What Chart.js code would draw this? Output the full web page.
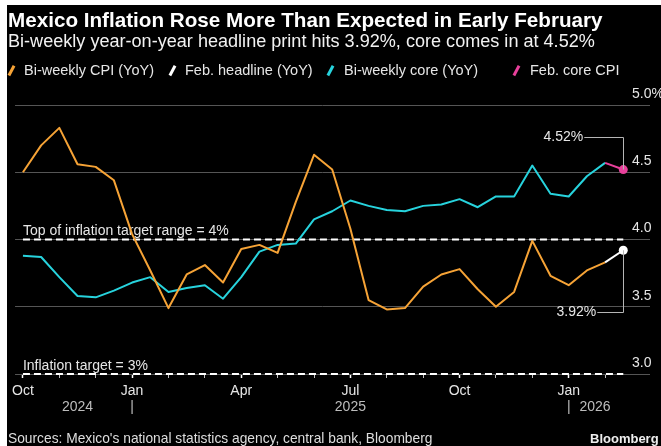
<!DOCTYPE html>
<html>
<head>
<meta charset="utf-8">
<script src="https://cdn.jsdelivr.net/npm/chart.js@4.4.1/dist/chart.umd.min.js"></script>
<style>
html, body { margin: 0; padding: 0; background: #fff; width: 661px; height: 446px; overflow: hidden; }
#wrap { position: absolute; left: 7px; top: 5px; width: 654px; height: 441px; background: #000; overflow: hidden;
  font-family: 'Liberation Sans', Arial, sans-serif; color: #fff; }
#chart { position: absolute; left: 0; top: 0; }
.txt { position: absolute; white-space: nowrap; }
#title { left: 1px; top: 5px; font-size: 19px; line-height: 20px; font-weight: bold; }
#subtitle { left: 1px; top: 26px; font-size: 16px; line-height: 20px; color: #f2f2f2; }
.lg { position: absolute; top: 57px; font-size: 14.5px; line-height: 16px; color: #e6e6e6; white-space: nowrap; }
.sl { position: absolute; top: 60px; width: 2.5px; height: 11px; transform: rotate(28deg); }
#source { left: 1px; top: 426px; font-size: 13px; line-height: 16px; color: #ddd; }
#brand { left: 583px; top: 426px; font-size: 13px; line-height: 16px; font-weight: bold; color: #eee; }
</style>
</head>
<body>
<div id="wrap">
  <canvas id="chart" width="654" height="441"></canvas>
  <div id="title" class="txt">Mexico Inflation Rose More Than Expected in Early February</div>
  <div id="subtitle" class="txt">Bi-weekly year-on-year headline print hits 3.92%, core comes in at 4.52%</div>
  <i class="sl" style="left:3px;background:#f6a336"></i><span class="lg" style="left:17px">Bi-weekly CPI (YoY)</span>
  <i class="sl" style="left:164px;background:#fff"></i><span class="lg" style="left:178px">Feb. headline (YoY)</span>
  <i class="sl" style="left:322px;background:#27d3dd"></i><span class="lg" style="left:337px">Bi-weekly core (YoY)</span>
  <i class="sl" style="left:508px;background:#e8409b"></i><span class="lg" style="left:523px">Feb. core CPI</span>
  <div id="source" class="txt">Sources: Mexico's national statistics agency, central bank, Bloomberg</div>
  <div id="brand" class="txt">Bloomberg</div>
</div>
<script>
// bi-weekly prints, Oct 2024 -> early Feb 2026 (index = half-month)
var cpiBiweekly = [4.50, 4.70, 4.83, 4.56, 4.54, 4.44, 4.04, 3.77, 3.49, 3.74, 3.81, 3.68,
  3.93, 3.96, 3.90, 4.28, 4.63, 4.52, 4.08, 3.55, 3.48, 3.49, 3.65, 3.74,
  3.78, 3.63, 3.50, 3.61, 3.99, 3.73, 3.66, 3.77, 3.83];
var coreBiweekly = [3.88, 3.87, 3.72, 3.58, 3.57, 3.62, 3.68, 3.72, 3.61, 3.64, 3.66, 3.56,
  3.72, 3.91, 3.96, 3.97, 4.15, 4.21, 4.29, 4.25, 4.22, 4.21, 4.25, 4.26,
  4.30, 4.24, 4.32, 4.32, 4.55, 4.34, 4.32, 4.47, 4.57];
var febHeadline = 3.92;
var febCore = 4.52;
var inflationTop = 4;
var inflationTarget = 3;

var monthTickIdx = [0, 6, 12, 18, 24, 30];
var monthTickNames = ['Oct', 'Jan', 'Apr', 'Jul', 'Oct', 'Jan'];
var yearTickIdx = [3, 6, 18, 30, 31.45];
var yearTickNames = ['2024', '|', '2025', '|', '2026'];
var yTicks = [3.0, 3.5, 4.0, 4.5, 5.0];

function fit(id, w) {
  var el = document.getElementById(id);
  var s = parseFloat(getComputedStyle(el).fontSize);
  el.style.fontSize = (s * w / el.getBoundingClientRect().width) + 'px';
}
fit('title', 595);
fit('subtitle', 587);
fit('source', 425);

function pts(arr) { return arr.map(function (v, i) { return {x: i, y: v}; }); }
var last = cpiBiweekly.length - 1;

Chart.defaults.font.family = "'Liberation Sans', Arial, sans-serif";
Chart.defaults.color = '#ddd';

var notes = {
  id: 'notes',
  beforeDatasetsDraw: function (chart) {
    var ctx = chart.ctx, x = chart.scales.x, y = chart.scales.y;
    ctx.save();
    ctx.font = "14px 'Liberation Sans', Arial, sans-serif";
    ctx.fillStyle = '#e6e6e6';
    ctx.fillText('Top of inflation target range = 4%', x.getPixelForValue(0), y.getPixelForValue(inflationTop) - 5);
    ctx.fillText('Inflation target = 3%', x.getPixelForValue(0), y.getPixelForValue(inflationTarget) - 4);
    ctx.restore();
  },
  afterDatasetsDraw: function (chart) {
    var ctx = chart.ctx, x = chart.scales.x, y = chart.scales.y;
    var px = x.getPixelForValue(last + 1);
    var callouts = [
      {v: febCore, at: 4.76, gap: 40, text: '4.52%'},
      {v: febHeadline, at: 3.46, gap: 27, text: '3.92%'}
    ];
    ctx.save();
    ctx.strokeStyle = '#b5b5b5';
    ctx.lineWidth = 1;
    ctx.font = "14px 'Liberation Sans', Arial, sans-serif";
    ctx.fillStyle = '#e6e6e6';
    ctx.textAlign = 'right';
    ctx.textBaseline = 'middle';
    callouts.forEach(function (c) {
      var ly = Math.round(y.getPixelForValue(c.at)) + 0.5;
      var py = y.getPixelForValue(c.v);
      ctx.beginPath();
      ctx.moveTo(px - c.gap + 1, ly);
      ctx.lineTo(Math.round(px) + 0.5, ly);
      ctx.lineTo(Math.round(px) + 0.5, py);
      ctx.stroke();
      ctx.fillText(c.text, px - c.gap, ly);
    });
    ctx.restore();
  }
};

new Chart(document.getElementById('chart'), {
  type: 'line',
  data: {
    datasets: [
      {label: 'Feb. core CPI', data: [{x: last, y: coreBiweekly[last]}, {x: last + 1, y: febCore}],
        borderColor: '#e8409b', backgroundColor: '#e8409b', borderWidth: 2, pointRadius: [0, 4.5], pointBorderWidth: 0},
      {label: 'Feb. headline (YoY)', data: [{x: last, y: cpiBiweekly[last]}, {x: last + 1, y: febHeadline}],
        borderColor: '#fff', backgroundColor: '#fff', borderWidth: 2, pointRadius: [0, 4.5], pointBorderWidth: 0},
      {label: 'Bi-weekly CPI (YoY)', data: pts(cpiBiweekly), borderColor: '#f6a336', borderWidth: 2, pointRadius: 0},
      {label: 'Bi-weekly core (YoY)', data: pts(coreBiweekly), borderColor: '#27d3dd', borderWidth: 2, pointRadius: 0},
      {label: 'top', data: [{x: 0, y: inflationTop}, {x: last + 1, y: inflationTop}],
        borderColor: '#fff', borderWidth: 2, borderDash: [7, 4], pointRadius: 0, clip: false},
      {label: 'target', data: [{x: 0, y: inflationTarget}, {x: last + 1, y: inflationTarget}],
        borderColor: '#fff', borderWidth: 2, borderDash: [7, 4], pointRadius: 0, clip: false}
    ]
  },
  options: {
    responsive: false,
    animation: false,
    layout: {padding: {top: 100, left: 1, right: 0, bottom: 26}},
    elements: {line: {tension: 0, borderJoinStyle: 'round'}},
    plugins: {legend: {display: false}, tooltip: {enabled: false}},
    scales: {
      x: {
        type: 'linear', min: -0.435, max: 33.37, weight: 0,
        border: {display: false},
        grid: {
          drawOnChartArea: false, drawTicks: true, tickLength: 4,
          tickColor: function (c) { return monthTickIdx.indexOf(c.tick.value) >= 0 ? '#fff' : '#bbb'; },
          tickWidth: function (c) { return monthTickIdx.indexOf(c.tick.value) >= 0 ? 1.5 : 1; }
        },
        ticks: {
          stepSize: 2, includeBounds: false, autoSkip: false, maxRotation: 0, padding: 5,
          font: {size: 14}, color: '#e6e6e6',
          callback: function (v) { var k = monthTickIdx.indexOf(v); return k >= 0 ? monthTickNames[k] : ''; }
        },
        afterFit: function (s) { s.height = 24; }
      },
      x2: {
        type: 'linear', position: 'bottom', min: -0.435, max: 33.37, weight: 1,
        border: {display: false},
        grid: {display: false, drawTicks: false},
        afterBuildTicks: function (s) { s.ticks = yearTickIdx.map(function (v) { return {value: v}; }); },
        ticks: {
          autoSkip: false, maxRotation: 0, padding: 1, font: {size: 14}, color: '#bdbdbd',
          callback: function (v, i) { return yearTickNames[i]; }
        },
        afterFit: function (s) { s.height = 22; }
      },
      y: {
        position: 'right', min: 3, max: 5,
        border: {display: false},
        grid: {color: '#555', lineWidth: 1, drawTicks: true, tickLength: 20},
        afterBuildTicks: function (s) { s.ticks = yTicks.map(function (v) { return {value: v}; }); },
        ticks: {
          padding: -18, labelOffset: -11, font: {size: 14}, color: '#e6e6e6',
          callback: function (v) { return v === 5 ? '5.0%' : v.toFixed(1); }
        },
        afterFit: function (s) { s.width = 31; }
      }
    }
  },
  plugins: [notes]
});
</script>
</body>
</html>
